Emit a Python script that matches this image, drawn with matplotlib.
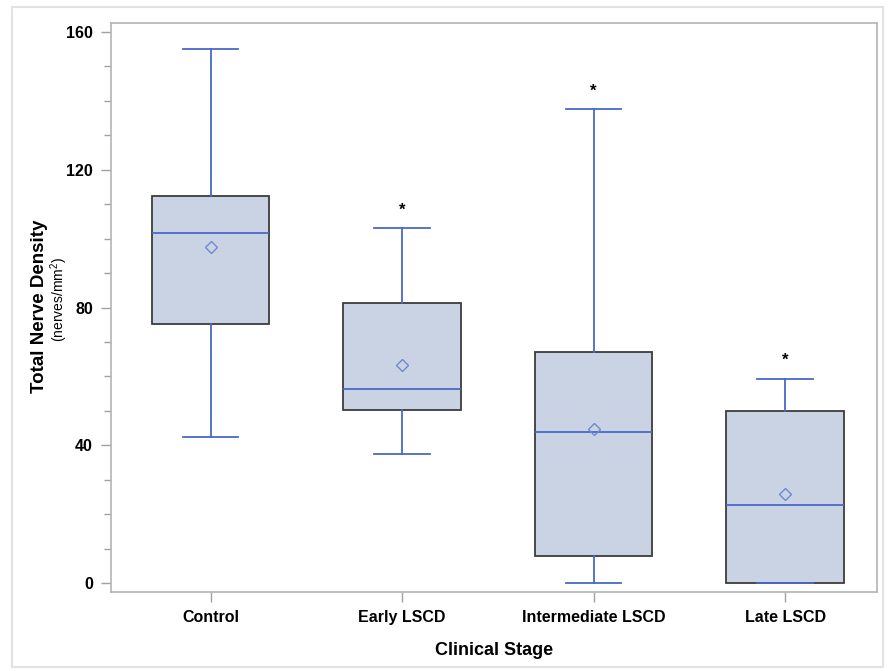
import matplotlib
matplotlib.use("Agg")
import matplotlib.pyplot as plt
from matplotlib.patches import Rectangle
from matplotlib.ticker import MultipleLocator

plt.rcParams['font.family'] = ['Liberation Sans', 'DejaVu Sans']
plt.rcParams['mathtext.fontset'] = 'custom'
plt.rcParams['mathtext.rm'] = 'Liberation Sans'
plt.rcParams['mathtext.it'] = 'Liberation Sans'

# values
stages = ["Control", "Early LSCD", "Intermediate LSCD", "Late LSCD"]
whisker_low = [42.4, 37.5, 0.0, 0.0]
q1 = [75.2, 50.2, 7.8, 0.0]
median = [101.6, 56.3, 43.8, 22.6]
mean = [97.6, 63.3, 44.7, 25.8]
q3 = [112.4, 81.3, 67.1, 49.9]
whisker_high = [155.0, 103.1, 137.6, 59.2]
star_y = [None, 108.3, 142.9, 64.7]

box_fill = "#c9d3e4"
line_blue = "#4a68c8"
edge_gray = "#3c3c3c"

stats = []
for i in range(len(stages)):
    stats.append({
        "label": stages[i],
        "whislo": whisker_low[i],
        "q1": q1[i],
        "med": median[i],
        "mean": mean[i],
        "q3": q3[i],
        "whishi": whisker_high[i],
        "fliers": [],
    })

fig = plt.figure(figsize=(8.88, 6.71), dpi=100)
ax = fig.add_axes([0.125, 0.1177, 0.8626, 0.848])

pos = list(range(len(stages)))
ax.bxp(stats, positions=pos, widths=0.615, capwidths=0.29,
       patch_artist=True, showmeans=True,
       boxprops=dict(facecolor=box_fill, edgecolor=edge_gray, linewidth=1.3),
       medianprops=dict(color=line_blue, linewidth=1.3),
       whiskerprops=dict(color=line_blue, linewidth=1.3),
       capprops=dict(color=line_blue, linewidth=1.3),
       meanprops=dict(marker="D", markerfacecolor="none",
                      markeredgecolor="#6f88d0", markersize=6,
                      markeredgewidth=1.0))

for i, y in enumerate(star_y):
    if y is not None:
        ax.text(pos[i], y, "*", ha="center", va="center",
                fontsize=12, fontweight="bold", color="black")

ax.set_xlim(-0.52, 3.48)
ax.set_ylim(-2.6, 162.6)
ax.yaxis.set_major_locator(MultipleLocator(40))
ax.yaxis.set_minor_locator(MultipleLocator(10))
ax.set_xticks(pos)
ax.set_xticklabels(stages)

for s in ax.spines.values():
    s.set_color("#b4b4b4")
    s.set_linewidth(1.2)
ax.tick_params(axis="both", which="both", color="#a0a0a0", width=1.0)
ax.tick_params(axis="both", which="major", length=7, labelsize=11.5, pad=6)
ax.tick_params(axis="y", which="minor", length=5)
for lab in ax.get_xticklabels() + ax.get_yticklabels():
    lab.set_fontweight("bold")

ax.set_xlabel("Clinical Stage", fontsize=13, fontweight="bold", labelpad=12)
fig.text(40 / 888, 1 - 306 / 671, "Total Nerve Density", rotation=90,
         ha="center", va="center", fontsize=13.5, fontweight="bold")
fig.text(59 / 888, 1 - 300 / 671, "(nerves/mm$^2$)", rotation=90,
         ha="center", va="center", fontsize=10)

fig.patches.append(Rectangle((12 / 888, 4 / 671), 871 / 888, 660 / 671,
                             transform=fig.transFigure, fill=False,
                             edgecolor="#e2e2e2", linewidth=1.5))

fig.savefig("out.png", dpi=100)
